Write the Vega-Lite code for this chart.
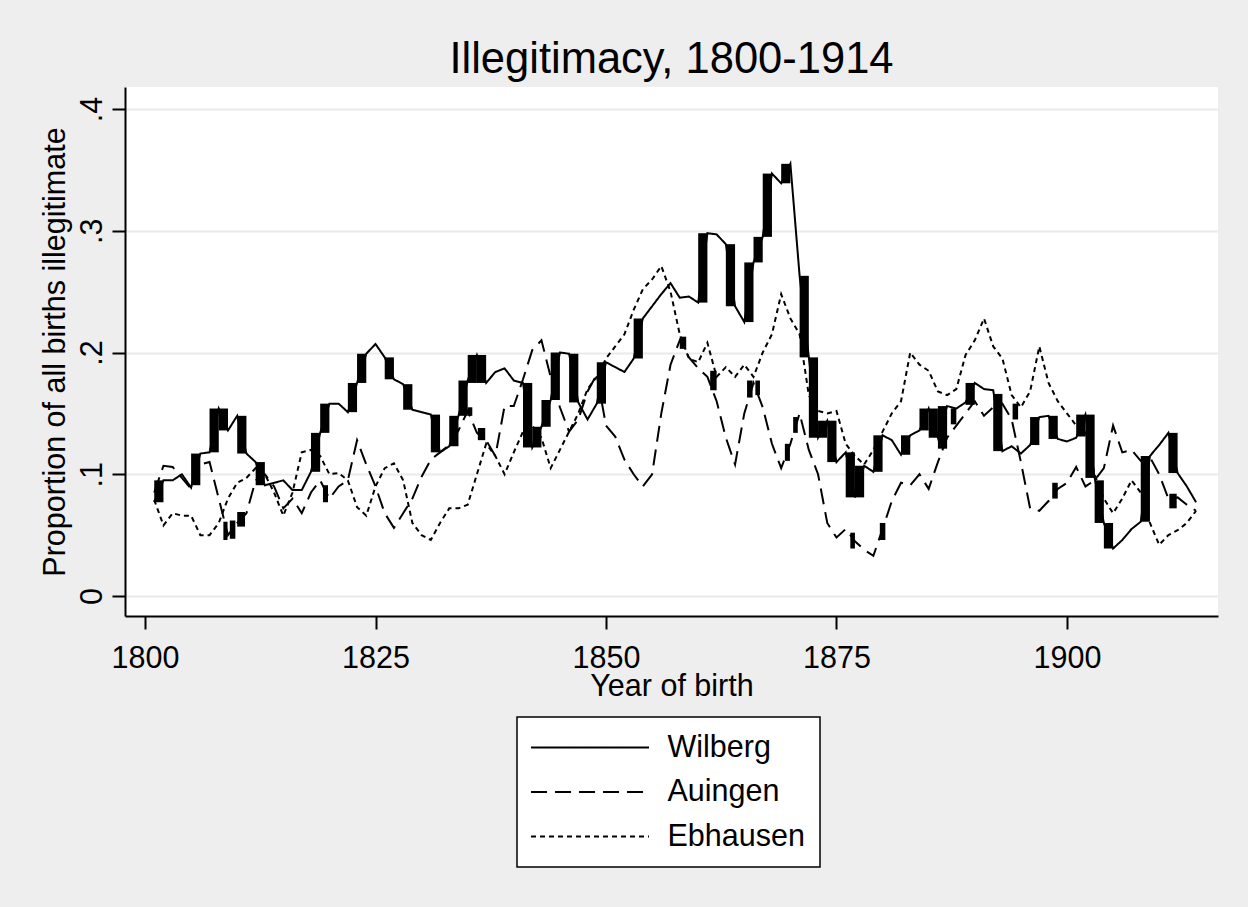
{
  "$schema": "https://vega.github.io/schema/vega-lite/v6.json",
  "width": 1093,
  "height": 529,
  "autosize": {"type": "none"},
  "padding": {"left": 125, "top": 87, "right": 30, "bottom": 291},
  "background": "#eeeeee",
  "config": {"view": {"fill": "white", "stroke": null}, "font": "Liberation Sans"},
  "title": {"text": "Illegitimacy, 1800-1914", "fontSize": 43.5, "fontWeight": "normal", "color": "black", "anchor": "middle", "frame": "group", "offset": 15, "baseline": "alphabetic", "dy": 44, "font": "Liberation Sans"},
  "datasets": {
    "blocks": [
      {"place": "Wilberg", "start": 1801, "end": 1802, "low": 0.077, "high": 0.095},
      {"place": "Wilberg", "start": 1805, "end": 1806, "low": 0.091, "high": 0.117},
      {"place": "Wilberg", "start": 1807, "end": 1808, "low": 0.118, "high": 0.154},
      {"place": "Wilberg", "start": 1808, "end": 1809, "low": 0.136, "high": 0.154},
      {"place": "Wilberg", "start": 1810, "end": 1811, "low": 0.117, "high": 0.148},
      {"place": "Wilberg", "start": 1812, "end": 1813, "low": 0.091, "high": 0.110},
      {"place": "Wilberg", "start": 1818, "end": 1819, "low": 0.102, "high": 0.134},
      {"place": "Wilberg", "start": 1819, "end": 1820, "low": 0.134, "high": 0.158},
      {"place": "Wilberg", "start": 1822, "end": 1823, "low": 0.151, "high": 0.175},
      {"place": "Wilberg", "start": 1823, "end": 1824, "low": 0.175, "high": 0.199},
      {"place": "Wilberg", "start": 1826, "end": 1827, "low": 0.178, "high": 0.196},
      {"place": "Wilberg", "start": 1828, "end": 1829, "low": 0.153, "high": 0.174},
      {"place": "Wilberg", "start": 1831, "end": 1832, "low": 0.118, "high": 0.149},
      {"place": "Wilberg", "start": 1833, "end": 1834, "low": 0.123, "high": 0.148},
      {"place": "Wilberg", "start": 1834, "end": 1835, "low": 0.148, "high": 0.177},
      {"place": "Wilberg", "start": 1835, "end": 1836, "low": 0.175, "high": 0.198},
      {"place": "Wilberg", "start": 1836, "end": 1837, "low": 0.175, "high": 0.198},
      {"place": "Wilberg", "start": 1841, "end": 1842, "low": 0.122, "high": 0.175},
      {"place": "Wilberg", "start": 1842, "end": 1843, "low": 0.122, "high": 0.139},
      {"place": "Wilberg", "start": 1843, "end": 1844, "low": 0.139, "high": 0.161},
      {"place": "Wilberg", "start": 1844, "end": 1845, "low": 0.161, "high": 0.200},
      {"place": "Wilberg", "start": 1846, "end": 1847, "low": 0.159, "high": 0.199},
      {"place": "Wilberg", "start": 1849, "end": 1850, "low": 0.158, "high": 0.192},
      {"place": "Wilberg", "start": 1853, "end": 1854, "low": 0.195, "high": 0.228},
      {"place": "Wilberg", "start": 1860, "end": 1861, "low": 0.241, "high": 0.298},
      {"place": "Wilberg", "start": 1863, "end": 1864, "low": 0.238, "high": 0.289},
      {"place": "Wilberg", "start": 1865, "end": 1866, "low": 0.225, "high": 0.274},
      {"place": "Wilberg", "start": 1866, "end": 1867, "low": 0.274, "high": 0.295},
      {"place": "Wilberg", "start": 1867, "end": 1868, "low": 0.295, "high": 0.347},
      {"place": "Wilberg", "start": 1869, "end": 1870, "low": 0.339, "high": 0.355},
      {"place": "Wilberg", "start": 1871, "end": 1872, "low": 0.196, "high": 0.263},
      {"place": "Wilberg", "start": 1872, "end": 1873, "low": 0.130, "high": 0.196},
      {"place": "Wilberg", "start": 1873, "end": 1874, "low": 0.130, "high": 0.144},
      {"place": "Wilberg", "start": 1874, "end": 1875, "low": 0.110, "high": 0.144},
      {"place": "Wilberg", "start": 1876, "end": 1877, "low": 0.081, "high": 0.118},
      {"place": "Wilberg", "start": 1877, "end": 1878, "low": 0.081, "high": 0.107},
      {"place": "Wilberg", "start": 1879, "end": 1880, "low": 0.102, "high": 0.132},
      {"place": "Wilberg", "start": 1882, "end": 1883, "low": 0.116, "high": 0.132},
      {"place": "Wilberg", "start": 1884, "end": 1885, "low": 0.136, "high": 0.154},
      {"place": "Wilberg", "start": 1885, "end": 1886, "low": 0.130, "high": 0.154},
      {"place": "Wilberg", "start": 1886, "end": 1887, "low": 0.121, "high": 0.156},
      {"place": "Wilberg", "start": 1887.4, "end": 1888, "low": 0.141, "high": 0.154},
      {"place": "Wilberg", "start": 1889, "end": 1890, "low": 0.157, "high": 0.175},
      {"place": "Wilberg", "start": 1892, "end": 1893, "low": 0.119, "high": 0.166},
      {"place": "Wilberg", "start": 1896, "end": 1897, "low": 0.124, "high": 0.147},
      {"place": "Wilberg", "start": 1898, "end": 1899, "low": 0.129, "high": 0.148},
      {"place": "Wilberg", "start": 1901, "end": 1902, "low": 0.131, "high": 0.149},
      {"place": "Wilberg", "start": 1902, "end": 1903, "low": 0.097, "high": 0.149},
      {"place": "Wilberg", "start": 1903, "end": 1904, "low": 0.060, "high": 0.095},
      {"place": "Wilberg", "start": 1904, "end": 1905, "low": 0.039, "high": 0.060},
      {"place": "Wilberg", "start": 1908, "end": 1909, "low": 0.061, "high": 0.115},
      {"place": "Wilberg", "start": 1911, "end": 1912, "low": 0.101, "high": 0.134},
      {"place": "Auingen", "start": 1808.5, "end": 1808.95, "low": 0.046, "high": 0.061},
      {"place": "Auingen", "start": 1809.2, "end": 1809.8, "low": 0.047, "high": 0.062},
      {"place": "Auingen", "start": 1810.0, "end": 1810.85, "low": 0.057, "high": 0.069},
      {"place": "Auingen", "start": 1819.3, "end": 1819.85, "low": 0.077, "high": 0.091},
      {"place": "Auingen", "start": 1835.0, "end": 1835.5, "low": 0.148, "high": 0.155},
      {"place": "Auingen", "start": 1836.1, "end": 1836.9, "low": 0.128, "high": 0.138},
      {"place": "Auingen", "start": 1858.0, "end": 1858.7, "low": 0.203, "high": 0.213},
      {"place": "Auingen", "start": 1861.3, "end": 1862.0, "low": 0.169, "high": 0.185},
      {"place": "Auingen", "start": 1865.3, "end": 1865.9, "low": 0.163, "high": 0.177},
      {"place": "Auingen", "start": 1866.2, "end": 1866.7, "low": 0.165, "high": 0.177},
      {"place": "Auingen", "start": 1869.4, "end": 1869.95, "low": 0.111, "high": 0.125},
      {"place": "Auingen", "start": 1870.3, "end": 1870.8, "low": 0.134, "high": 0.147},
      {"place": "Auingen", "start": 1876.5, "end": 1877.0, "low": 0.039, "high": 0.052},
      {"place": "Auingen", "start": 1879.7, "end": 1880.3, "low": 0.046, "high": 0.060},
      {"place": "Auingen", "start": 1894.1, "end": 1894.7, "low": 0.145, "high": 0.158},
      {"place": "Auingen", "start": 1898.4, "end": 1899.0, "low": 0.080, "high": 0.093},
      {"place": "Auingen", "start": 1911.1, "end": 1911.9, "low": 0.072, "high": 0.084}
    ],
    "series": [
      {"place": "Wilberg", "year": 1801, "value": 0.077}, {"place": "Wilberg", "year": 1802, "value": 0.095}, {"place": "Wilberg", "year": 1803, "value": 0.095}, {"place": "Wilberg", "year": 1804, "value": 0.100}, {"place": "Wilberg", "year": 1805, "value": 0.089}, {"place": "Wilberg", "year": 1806, "value": 0.117}, {"place": "Wilberg", "year": 1807, "value": 0.118}, {"place": "Wilberg", "year": 1808, "value": 0.154}, {"place": "Wilberg", "year": 1809, "value": 0.136}, {"place": "Wilberg", "year": 1810, "value": 0.148},
      {"place": "Wilberg", "year": 1811, "value": 0.117}, {"place": "Wilberg", "year": 1812, "value": 0.110}, {"place": "Wilberg", "year": 1813, "value": 0.091}, {"place": "Wilberg", "year": 1814, "value": 0.093}, {"place": "Wilberg", "year": 1815, "value": 0.095}, {"place": "Wilberg", "year": 1816, "value": 0.087}, {"place": "Wilberg", "year": 1817, "value": 0.087}, {"place": "Wilberg", "year": 1818, "value": 0.102}, {"place": "Wilberg", "year": 1819, "value": 0.134}, {"place": "Wilberg", "year": 1820, "value": 0.158},
      {"place": "Wilberg", "year": 1821, "value": 0.158}, {"place": "Wilberg", "year": 1822, "value": 0.151}, {"place": "Wilberg", "year": 1823, "value": 0.175}, {"place": "Wilberg", "year": 1824, "value": 0.199}, {"place": "Wilberg", "year": 1825, "value": 0.207}, {"place": "Wilberg", "year": 1826, "value": 0.196}, {"place": "Wilberg", "year": 1827, "value": 0.178}, {"place": "Wilberg", "year": 1828, "value": 0.174}, {"place": "Wilberg", "year": 1829, "value": 0.153}, {"place": "Wilberg", "year": 1830, "value": 0.151},
      {"place": "Wilberg", "year": 1831, "value": 0.149}, {"place": "Wilberg", "year": 1832, "value": 0.118}, {"place": "Wilberg", "year": 1833, "value": 0.123}, {"place": "Wilberg", "year": 1834, "value": 0.148}, {"place": "Wilberg", "year": 1835, "value": 0.177}, {"place": "Wilberg", "year": 1836, "value": 0.198}, {"place": "Wilberg", "year": 1837, "value": 0.175}, {"place": "Wilberg", "year": 1838, "value": 0.184}, {"place": "Wilberg", "year": 1839, "value": 0.187}, {"place": "Wilberg", "year": 1840, "value": 0.177},
      {"place": "Wilberg", "year": 1841, "value": 0.175}, {"place": "Wilberg", "year": 1842, "value": 0.122}, {"place": "Wilberg", "year": 1843, "value": 0.139}, {"place": "Wilberg", "year": 1844, "value": 0.161}, {"place": "Wilberg", "year": 1845, "value": 0.200}, {"place": "Wilberg", "year": 1846, "value": 0.199}, {"place": "Wilberg", "year": 1847, "value": 0.159}, {"place": "Wilberg", "year": 1848, "value": 0.145}, {"place": "Wilberg", "year": 1849, "value": 0.158}, {"place": "Wilberg", "year": 1850, "value": 0.192},
      {"place": "Wilberg", "year": 1851, "value": 0.188}, {"place": "Wilberg", "year": 1852, "value": 0.184}, {"place": "Wilberg", "year": 1853, "value": 0.195}, {"place": "Wilberg", "year": 1854, "value": 0.228}, {"place": "Wilberg", "year": 1855, "value": 0.238}, {"place": "Wilberg", "year": 1856, "value": 0.248}, {"place": "Wilberg", "year": 1857, "value": 0.257}, {"place": "Wilberg", "year": 1858, "value": 0.245}, {"place": "Wilberg", "year": 1859, "value": 0.246}, {"place": "Wilberg", "year": 1860, "value": 0.241},
      {"place": "Wilberg", "year": 1861, "value": 0.298}, {"place": "Wilberg", "year": 1862, "value": 0.297}, {"place": "Wilberg", "year": 1863, "value": 0.289}, {"place": "Wilberg", "year": 1864, "value": 0.238}, {"place": "Wilberg", "year": 1865, "value": 0.225}, {"place": "Wilberg", "year": 1866, "value": 0.274}, {"place": "Wilberg", "year": 1867, "value": 0.295}, {"place": "Wilberg", "year": 1868, "value": 0.347}, {"place": "Wilberg", "year": 1869, "value": 0.339}, {"place": "Wilberg", "year": 1870, "value": 0.355},
      {"place": "Wilberg", "year": 1871, "value": 0.263}, {"place": "Wilberg", "year": 1872, "value": 0.196}, {"place": "Wilberg", "year": 1873, "value": 0.130}, {"place": "Wilberg", "year": 1874, "value": 0.144}, {"place": "Wilberg", "year": 1875, "value": 0.110}, {"place": "Wilberg", "year": 1876, "value": 0.118}, {"place": "Wilberg", "year": 1877, "value": 0.081}, {"place": "Wilberg", "year": 1878, "value": 0.107}, {"place": "Wilberg", "year": 1879, "value": 0.102}, {"place": "Wilberg", "year": 1880, "value": 0.132},
      {"place": "Wilberg", "year": 1881, "value": 0.128}, {"place": "Wilberg", "year": 1882, "value": 0.116}, {"place": "Wilberg", "year": 1883, "value": 0.132}, {"place": "Wilberg", "year": 1884, "value": 0.136}, {"place": "Wilberg", "year": 1885, "value": 0.154}, {"place": "Wilberg", "year": 1886, "value": 0.130}, {"place": "Wilberg", "year": 1887, "value": 0.156}, {"place": "Wilberg", "year": 1888, "value": 0.154}, {"place": "Wilberg", "year": 1889, "value": 0.159}, {"place": "Wilberg", "year": 1890, "value": 0.175},
      {"place": "Wilberg", "year": 1891, "value": 0.170}, {"place": "Wilberg", "year": 1892, "value": 0.169}, {"place": "Wilberg", "year": 1893, "value": 0.119}, {"place": "Wilberg", "year": 1894, "value": 0.123}, {"place": "Wilberg", "year": 1895, "value": 0.117}, {"place": "Wilberg", "year": 1896, "value": 0.124}, {"place": "Wilberg", "year": 1897, "value": 0.147}, {"place": "Wilberg", "year": 1898, "value": 0.148}, {"place": "Wilberg", "year": 1899, "value": 0.129}, {"place": "Wilberg", "year": 1900, "value": 0.127},
      {"place": "Wilberg", "year": 1901, "value": 0.130}, {"place": "Wilberg", "year": 1902, "value": 0.149}, {"place": "Wilberg", "year": 1903, "value": 0.097}, {"place": "Wilberg", "year": 1904, "value": 0.060}, {"place": "Wilberg", "year": 1905, "value": 0.039}, {"place": "Wilberg", "year": 1906, "value": 0.046}, {"place": "Wilberg", "year": 1907, "value": 0.055}, {"place": "Wilberg", "year": 1908, "value": 0.061}, {"place": "Wilberg", "year": 1909, "value": 0.115}, {"place": "Wilberg", "year": 1910, "value": 0.124},
      {"place": "Wilberg", "year": 1911, "value": 0.134}, {"place": "Wilberg", "year": 1912, "value": 0.101}, {"place": "Wilberg", "year": 1913, "value": 0.090}, {"place": "Wilberg", "year": 1914, "value": 0.077},

      {"place": "Auingen", "year": 1801, "value": 0.085}, {"place": "Auingen", "year": 1802, "value": 0.107}, {"place": "Auingen", "year": 1803, "value": 0.106}, {"place": "Auingen", "year": 1804, "value": 0.097}, {"place": "Auingen", "year": 1805, "value": 0.088}, {"place": "Auingen", "year": 1806, "value": 0.108}, {"place": "Auingen", "year": 1807, "value": 0.110}, {"place": "Auingen", "year": 1808, "value": 0.080}, {"place": "Auingen", "year": 1809, "value": 0.050}, {"place": "Auingen", "year": 1810, "value": 0.060},
      {"place": "Auingen", "year": 1811, "value": 0.068}, {"place": "Auingen", "year": 1812, "value": 0.095}, {"place": "Auingen", "year": 1813, "value": 0.100}, {"place": "Auingen", "year": 1814, "value": 0.090}, {"place": "Auingen", "year": 1815, "value": 0.072}, {"place": "Auingen", "year": 1816, "value": 0.080}, {"place": "Auingen", "year": 1817, "value": 0.068}, {"place": "Auingen", "year": 1818, "value": 0.085}, {"place": "Auingen", "year": 1819, "value": 0.095}, {"place": "Auingen", "year": 1820, "value": 0.080},
      {"place": "Auingen", "year": 1821, "value": 0.090}, {"place": "Auingen", "year": 1822, "value": 0.095}, {"place": "Auingen", "year": 1823, "value": 0.128}, {"place": "Auingen", "year": 1824, "value": 0.108}, {"place": "Auingen", "year": 1825, "value": 0.090}, {"place": "Auingen", "year": 1826, "value": 0.068}, {"place": "Auingen", "year": 1827, "value": 0.056}, {"place": "Auingen", "year": 1828, "value": 0.068}, {"place": "Auingen", "year": 1829, "value": 0.080}, {"place": "Auingen", "year": 1830, "value": 0.098},
      {"place": "Auingen", "year": 1831, "value": 0.112}, {"place": "Auingen", "year": 1832, "value": 0.118}, {"place": "Auingen", "year": 1833, "value": 0.124}, {"place": "Auingen", "year": 1834, "value": 0.136}, {"place": "Auingen", "year": 1835, "value": 0.152}, {"place": "Auingen", "year": 1836, "value": 0.134}, {"place": "Auingen", "year": 1837, "value": 0.128}, {"place": "Auingen", "year": 1838, "value": 0.115}, {"place": "Auingen", "year": 1839, "value": 0.156}, {"place": "Auingen", "year": 1840, "value": 0.156},
      {"place": "Auingen", "year": 1841, "value": 0.178}, {"place": "Auingen", "year": 1842, "value": 0.202}, {"place": "Auingen", "year": 1843, "value": 0.210}, {"place": "Auingen", "year": 1844, "value": 0.180}, {"place": "Auingen", "year": 1845, "value": 0.155}, {"place": "Auingen", "year": 1846, "value": 0.135}, {"place": "Auingen", "year": 1847, "value": 0.145}, {"place": "Auingen", "year": 1848, "value": 0.168}, {"place": "Auingen", "year": 1849, "value": 0.182}, {"place": "Auingen", "year": 1850, "value": 0.140},
      {"place": "Auingen", "year": 1851, "value": 0.131}, {"place": "Auingen", "year": 1852, "value": 0.112}, {"place": "Auingen", "year": 1853, "value": 0.100}, {"place": "Auingen", "year": 1854, "value": 0.090}, {"place": "Auingen", "year": 1855, "value": 0.100}, {"place": "Auingen", "year": 1856, "value": 0.150}, {"place": "Auingen", "year": 1857, "value": 0.190}, {"place": "Auingen", "year": 1858, "value": 0.210}, {"place": "Auingen", "year": 1859, "value": 0.196}, {"place": "Auingen", "year": 1860, "value": 0.187},
      {"place": "Auingen", "year": 1861, "value": 0.180}, {"place": "Auingen", "year": 1862, "value": 0.160}, {"place": "Auingen", "year": 1863, "value": 0.130}, {"place": "Auingen", "year": 1864, "value": 0.108}, {"place": "Auingen", "year": 1865, "value": 0.150}, {"place": "Auingen", "year": 1866, "value": 0.175}, {"place": "Auingen", "year": 1867, "value": 0.155}, {"place": "Auingen", "year": 1868, "value": 0.125}, {"place": "Auingen", "year": 1869, "value": 0.105}, {"place": "Auingen", "year": 1870, "value": 0.125},
      {"place": "Auingen", "year": 1871, "value": 0.150}, {"place": "Auingen", "year": 1872, "value": 0.120}, {"place": "Auingen", "year": 1873, "value": 0.100}, {"place": "Auingen", "year": 1874, "value": 0.060}, {"place": "Auingen", "year": 1875, "value": 0.048}, {"place": "Auingen", "year": 1876, "value": 0.055}, {"place": "Auingen", "year": 1877, "value": 0.045}, {"place": "Auingen", "year": 1878, "value": 0.038}, {"place": "Auingen", "year": 1879, "value": 0.033}, {"place": "Auingen", "year": 1880, "value": 0.055},
      {"place": "Auingen", "year": 1881, "value": 0.078}, {"place": "Auingen", "year": 1882, "value": 0.093}, {"place": "Auingen", "year": 1883, "value": 0.091}, {"place": "Auingen", "year": 1884, "value": 0.100}, {"place": "Auingen", "year": 1885, "value": 0.088}, {"place": "Auingen", "year": 1886, "value": 0.110}, {"place": "Auingen", "year": 1887, "value": 0.130}, {"place": "Auingen", "year": 1888, "value": 0.140}, {"place": "Auingen", "year": 1889, "value": 0.150}, {"place": "Auingen", "year": 1890, "value": 0.160},
      {"place": "Auingen", "year": 1891, "value": 0.148}, {"place": "Auingen", "year": 1892, "value": 0.155}, {"place": "Auingen", "year": 1893, "value": 0.158}, {"place": "Auingen", "year": 1894, "value": 0.145}, {"place": "Auingen", "year": 1895, "value": 0.110}, {"place": "Auingen", "year": 1896, "value": 0.072}, {"place": "Auingen", "year": 1897, "value": 0.070}, {"place": "Auingen", "year": 1898, "value": 0.078}, {"place": "Auingen", "year": 1899, "value": 0.088}, {"place": "Auingen", "year": 1900, "value": 0.093},
      {"place": "Auingen", "year": 1901, "value": 0.106}, {"place": "Auingen", "year": 1902, "value": 0.090}, {"place": "Auingen", "year": 1903, "value": 0.095}, {"place": "Auingen", "year": 1904, "value": 0.105}, {"place": "Auingen", "year": 1905, "value": 0.140}, {"place": "Auingen", "year": 1906, "value": 0.118}, {"place": "Auingen", "year": 1907, "value": 0.120}, {"place": "Auingen", "year": 1908, "value": 0.111}, {"place": "Auingen", "year": 1909, "value": 0.114}, {"place": "Auingen", "year": 1910, "value": 0.100},
      {"place": "Auingen", "year": 1911, "value": 0.080}, {"place": "Auingen", "year": 1912, "value": 0.081}, {"place": "Auingen", "year": 1913, "value": 0.075}, {"place": "Auingen", "year": 1914, "value": 0.070},

      {"place": "Ebhausen", "year": 1801, "value": 0.079}, {"place": "Ebhausen", "year": 1802, "value": 0.058}, {"place": "Ebhausen", "year": 1803, "value": 0.068}, {"place": "Ebhausen", "year": 1804, "value": 0.066}, {"place": "Ebhausen", "year": 1805, "value": 0.066}, {"place": "Ebhausen", "year": 1806, "value": 0.050}, {"place": "Ebhausen", "year": 1807, "value": 0.050}, {"place": "Ebhausen", "year": 1808, "value": 0.060}, {"place": "Ebhausen", "year": 1809, "value": 0.080}, {"place": "Ebhausen", "year": 1810, "value": 0.093},
      {"place": "Ebhausen", "year": 1811, "value": 0.097}, {"place": "Ebhausen", "year": 1812, "value": 0.105}, {"place": "Ebhausen", "year": 1813, "value": 0.100}, {"place": "Ebhausen", "year": 1814, "value": 0.085}, {"place": "Ebhausen", "year": 1815, "value": 0.066}, {"place": "Ebhausen", "year": 1816, "value": 0.085}, {"place": "Ebhausen", "year": 1817, "value": 0.118}, {"place": "Ebhausen", "year": 1818, "value": 0.120}, {"place": "Ebhausen", "year": 1819, "value": 0.115}, {"place": "Ebhausen", "year": 1820, "value": 0.100},
      {"place": "Ebhausen", "year": 1821, "value": 0.101}, {"place": "Ebhausen", "year": 1822, "value": 0.095}, {"place": "Ebhausen", "year": 1823, "value": 0.073}, {"place": "Ebhausen", "year": 1824, "value": 0.066}, {"place": "Ebhausen", "year": 1825, "value": 0.090}, {"place": "Ebhausen", "year": 1826, "value": 0.105}, {"place": "Ebhausen", "year": 1827, "value": 0.109}, {"place": "Ebhausen", "year": 1828, "value": 0.095}, {"place": "Ebhausen", "year": 1829, "value": 0.060}, {"place": "Ebhausen", "year": 1830, "value": 0.050},
      {"place": "Ebhausen", "year": 1831, "value": 0.046}, {"place": "Ebhausen", "year": 1832, "value": 0.060}, {"place": "Ebhausen", "year": 1833, "value": 0.072}, {"place": "Ebhausen", "year": 1834, "value": 0.072}, {"place": "Ebhausen", "year": 1835, "value": 0.075}, {"place": "Ebhausen", "year": 1836, "value": 0.100}, {"place": "Ebhausen", "year": 1837, "value": 0.125}, {"place": "Ebhausen", "year": 1838, "value": 0.115}, {"place": "Ebhausen", "year": 1839, "value": 0.100}, {"place": "Ebhausen", "year": 1840, "value": 0.118},
      {"place": "Ebhausen", "year": 1841, "value": 0.135}, {"place": "Ebhausen", "year": 1842, "value": 0.140}, {"place": "Ebhausen", "year": 1843, "value": 0.130}, {"place": "Ebhausen", "year": 1844, "value": 0.105}, {"place": "Ebhausen", "year": 1845, "value": 0.120}, {"place": "Ebhausen", "year": 1846, "value": 0.135}, {"place": "Ebhausen", "year": 1847, "value": 0.150}, {"place": "Ebhausen", "year": 1848, "value": 0.170}, {"place": "Ebhausen", "year": 1849, "value": 0.180}, {"place": "Ebhausen", "year": 1850, "value": 0.195},
      {"place": "Ebhausen", "year": 1851, "value": 0.205}, {"place": "Ebhausen", "year": 1852, "value": 0.215}, {"place": "Ebhausen", "year": 1853, "value": 0.235}, {"place": "Ebhausen", "year": 1854, "value": 0.252}, {"place": "Ebhausen", "year": 1855, "value": 0.260}, {"place": "Ebhausen", "year": 1856, "value": 0.271}, {"place": "Ebhausen", "year": 1857, "value": 0.250}, {"place": "Ebhausen", "year": 1858, "value": 0.215}, {"place": "Ebhausen", "year": 1859, "value": 0.195}, {"place": "Ebhausen", "year": 1860, "value": 0.192},
      {"place": "Ebhausen", "year": 1861, "value": 0.208}, {"place": "Ebhausen", "year": 1862, "value": 0.180}, {"place": "Ebhausen", "year": 1863, "value": 0.188}, {"place": "Ebhausen", "year": 1864, "value": 0.180}, {"place": "Ebhausen", "year": 1865, "value": 0.190}, {"place": "Ebhausen", "year": 1866, "value": 0.180}, {"place": "Ebhausen", "year": 1867, "value": 0.200}, {"place": "Ebhausen", "year": 1868, "value": 0.215}, {"place": "Ebhausen", "year": 1869, "value": 0.248}, {"place": "Ebhausen", "year": 1870, "value": 0.228},
      {"place": "Ebhausen", "year": 1871, "value": 0.215}, {"place": "Ebhausen", "year": 1872, "value": 0.165}, {"place": "Ebhausen", "year": 1873, "value": 0.152}, {"place": "Ebhausen", "year": 1874, "value": 0.150}, {"place": "Ebhausen", "year": 1875, "value": 0.152}, {"place": "Ebhausen", "year": 1876, "value": 0.125}, {"place": "Ebhausen", "year": 1877, "value": 0.115}, {"place": "Ebhausen", "year": 1878, "value": 0.108}, {"place": "Ebhausen", "year": 1879, "value": 0.120}, {"place": "Ebhausen", "year": 1880, "value": 0.135},
      {"place": "Ebhausen", "year": 1881, "value": 0.150}, {"place": "Ebhausen", "year": 1882, "value": 0.160}, {"place": "Ebhausen", "year": 1883, "value": 0.200}, {"place": "Ebhausen", "year": 1884, "value": 0.190}, {"place": "Ebhausen", "year": 1885, "value": 0.185}, {"place": "Ebhausen", "year": 1886, "value": 0.168}, {"place": "Ebhausen", "year": 1887, "value": 0.165}, {"place": "Ebhausen", "year": 1888, "value": 0.170}, {"place": "Ebhausen", "year": 1889, "value": 0.198}, {"place": "Ebhausen", "year": 1890, "value": 0.210},
      {"place": "Ebhausen", "year": 1891, "value": 0.228}, {"place": "Ebhausen", "year": 1892, "value": 0.205}, {"place": "Ebhausen", "year": 1893, "value": 0.195}, {"place": "Ebhausen", "year": 1894, "value": 0.165}, {"place": "Ebhausen", "year": 1895, "value": 0.155}, {"place": "Ebhausen", "year": 1896, "value": 0.168}, {"place": "Ebhausen", "year": 1897, "value": 0.205}, {"place": "Ebhausen", "year": 1898, "value": 0.175}, {"place": "Ebhausen", "year": 1899, "value": 0.160}, {"place": "Ebhausen", "year": 1900, "value": 0.150},
      {"place": "Ebhausen", "year": 1901, "value": 0.140}, {"place": "Ebhausen", "year": 1902, "value": 0.136}, {"place": "Ebhausen", "year": 1903, "value": 0.100}, {"place": "Ebhausen", "year": 1904, "value": 0.080}, {"place": "Ebhausen", "year": 1905, "value": 0.068}, {"place": "Ebhausen", "year": 1906, "value": 0.080}, {"place": "Ebhausen", "year": 1907, "value": 0.095}, {"place": "Ebhausen", "year": 1908, "value": 0.085}, {"place": "Ebhausen", "year": 1909, "value": 0.060}, {"place": "Ebhausen", "year": 1910, "value": 0.042},
      {"place": "Ebhausen", "year": 1911, "value": 0.050}, {"place": "Ebhausen", "year": 1912, "value": 0.054}, {"place": "Ebhausen", "year": 1913, "value": 0.060}, {"place": "Ebhausen", "year": 1914, "value": 0.070}
    ]
  },
  "layer": [
    {
      "data": {"name": "blocks"},
      "mark": {"type": "rect", "color": "black"},
      "encoding": {
        "x": {"field": "start", "type": "quantitative",
          "scale": {"domain": [1797.83, 1916.38], "nice": false, "zero": false},
          "axis": {"title": "Year of birth", "values": [1800, 1825, 1850, 1875, 1900], "format": "d", "grid": false, "domainColor": "black", "domainWidth": 2, "tickColor": "black", "tickWidth": 2, "tickSize": 13, "labelFontSize": 30.5, "labelColor": "black", "labelPadding": 14, "labelFont": "Liberation Sans", "titleFontSize": 30.5, "titleFontWeight": "normal", "titleColor": "black", "titleFont": "Liberation Sans", "titleX": 546.5, "titleY": 79, "titleBaseline": "alphabetic", "titleAlign": "center", "labelFlush": false, "labelOverlap": false}},
        "x2": {"field": "end"},
        "y": {"field": "low", "type": "quantitative",
          "scale": {"domain": [-0.01643, 0.4181], "nice": false, "zero": false},
          "axis": {"title": "Proportion of all births illegitimate", "values": [0, 0.1, 0.2, 0.3, 0.4], "labelExpr": "datum.value == 0 ? '0' : replace(format(datum.value, '.1f'), '0.', '.')", "grid": true, "gridColor": "#eaeaea", "gridWidth": 2, "domainColor": "black", "domainWidth": 2, "tickColor": "black", "tickWidth": 2, "tickSize": 13, "labelAngle": -90, "labelAlign": "center", "labelBaseline": "alphabetic", "labelPadding": 11, "labelFontSize": 30.5, "labelColor": "black", "labelFont": "Liberation Sans", "titleFontSize": 30.5, "titleFontWeight": "normal", "titleColor": "black", "titleFont": "Liberation Sans", "titleAngle": -90, "titleX": -61, "titleY": 264.5, "titleBaseline": "alphabetic", "titleAlign": "center", "labelFlush": false, "labelOverlap": false}},
        "y2": {"field": "high"}
      }
    },
    {
      "data": {"name": "series"},
      "mark": {"type": "line", "color": "black", "strokeWidth": 2},
      "encoding": {
        "x": {"field": "year", "type": "quantitative"},
        "y": {"field": "value", "type": "quantitative"},
        "strokeDash": {"field": "place", "type": "nominal",
          "scale": {"domain": ["Wilberg", "Auingen", "Ebhausen"], "range": [[1, 0], [16, 8], [5, 4]]},
          "legend": {"title": null, "orient": "none", "legendX": 392, "legendY": 630, "direction": "vertical", "symbolType": "M-4.14,0H4.14", "symbolSize": 812, "symbolOffset": 42.5, "symbolStrokeWidth": 2, "symbolStrokeColor": "black", "labelFontSize": 30.5, "labelColor": "black", "labelFont": "Liberation Sans", "labelOffset": 62, "padding": 15, "fillColor": "white", "strokeColor": "black", "rowPadding": 13.5,
            "encode": {"legend": {"update": {"strokeWidth": {"value": 1.5}}}}}
        }
      }
    }
  ]
}
